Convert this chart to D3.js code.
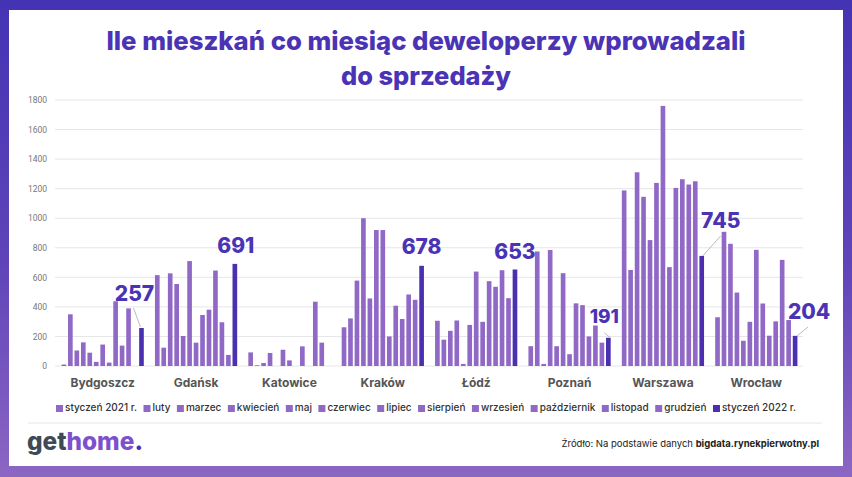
<!DOCTYPE html>
<html><head><meta charset="utf-8">
<script src="https://cdn.jsdelivr.net/npm/d3@7"></script>
<style>html,body{margin:0;padding:0;background:#fff}svg{display:block}</style>
</head><body>
<svg id="c" width="852" height="477"></svg>
<script>
const cities = ["Bydgoszcz","Gdańsk","Katowice","Kraków","Łódź","Poznań","Warszawa","Wrocław"];
const months = ["styczeń 2021 r.","luty","marzec","kwiecień","maj","czerwiec","lipiec","sierpień","wrzesień","październik","listopad","grudzień","styczeń 2022 r."];
const bydgoszcz = [10,350,105,160,90,28,145,23,438,138,390,0,257];
const gdansk    = [615,124,627,555,203,710,158,345,381,646,296,75,691];
const katowice  = [92,5,20,88,0,110,38,0,133,0,435,158,0];
const krakow    = [262,322,578,1000,457,920,920,200,408,318,484,448,678];
const lodz      = [306,178,238,308,14,278,639,299,574,536,648,459,653];
const poznan    = [134,775,14,785,134,628,80,424,412,200,274,158,191];
const warszawa  = [1188,650,1311,1145,852,1239,1760,669,1205,1264,1228,1250,745];
const wroclaw   = [330,908,827,497,171,299,786,423,205,302,718,311,204];
const yTicks = [0,200,400,600,800,1000,1200,1400,1600,1800];
const labelled = [257,691,null,678,653,191,745,204];

const series = [bydgoszcz,gdansk,katowice,krakow,lodz,poznan,warszawa,wroclaw];
const table = cities.map((c,i)=>({city:c, values:series[i]}));

const svg = d3.select("#c");
const defs = svg.append("defs");
const g = defs.append("linearGradient").attr("id","bg").attr("x1",0).attr("y1",0).attr("x2",0).attr("y2",1);
g.append("stop").attr("offset","0%").attr("stop-color","#4433b3");
g.append("stop").attr("offset","55%").attr("stop-color","#5f44b9");
g.append("stop").attr("offset","100%").attr("stop-color","#8c66c3");
svg.append("rect").attr("width",852).attr("height",477).attr("fill","url(#bg)");
svg.append("rect").attr("x",9).attr("y",10).attr("width",834).attr("height",456).attr("fill","#fff");

// Title
const titleColor = "#4a33b4";
const t1 = svg.append("text").attr("x",426).attr("y",50).attr("text-anchor","middle")
  .attr("font-family","Inter, 'Open Sans', sans-serif").attr("font-weight",800).attr("font-size",26)
  .attr("fill",titleColor).text("Ile mieszkań co miesiąc deweloperzy wprowadzali");
const t2 = svg.append("text").attr("x",426).attr("y",85).attr("text-anchor","middle")
  .attr("font-family","Inter, 'Open Sans', sans-serif").attr("font-weight",800).attr("font-size",26)
  .attr("fill",titleColor).text("do sprzedaży");
[[t1,639],[t2,170]].forEach(([t,w])=>{const l=t.node().getComputedTextLength(); if(l>0) t.attr("textLength",w).attr("lengthAdjust","spacingAndGlyphs");});

// Scales
const y = d3.scaleLinear().domain([0,1800]).range([366,100]);
const x0 = d3.scaleBand().domain(cities).range([56,803]).paddingInner(0.1).paddingOuter(0.05);
const x1 = d3.scaleBand().domain(months).range([0,x0.bandwidth()]).paddingInner(0.28).paddingOuter(0.14);

// Grid
const grid = svg.append("g");
grid.selectAll("line").data(yTicks).join("line")
  .attr("x1",55).attr("x2",803).attr("y1",d=>y(d)).attr("y2",d=>y(d))
  .attr("stroke","#e6e6e6").attr("stroke-width",1);
const yAxis = d3.axisLeft(y).tickValues(yTicks).tickSize(0).tickPadding(0).tickFormat(d3.format("d"));
const ya = svg.append("g").attr("transform","translate(47,0)").call(yAxis);
ya.select(".domain").remove();
ya.selectAll("text").attr("font-family","Roboto, sans-serif").attr("font-size",8.5).attr("fill","#777");

// Bars
const light = "#9069c6", dark = "#4a2fb1";
const groups = svg.append("g").selectAll("g").data(table).join("g")
  .attr("transform",d=>`translate(${x0(d.city)},0)`);
groups.selectAll("rect").data(d=>d.values.map((v,i)=>({m:months[i],v,i}))).join("rect")
  .attr("x",d=>x1(d.m)).attr("width",x1.bandwidth())
  .attr("y",d=>y(d.v)).attr("height",d=>y(0)-y(d.v))
  .attr("fill",d=>d.i===12?dark:light);

// City labels
const xAxis = d3.axisBottom(x0).tickSize(0).tickPadding(0);
const xa = svg.append("g").attr("transform","translate(0,378)").call(xAxis);
xa.select(".domain").remove();
xa.selectAll("text").attr("font-family","Inter, sans-serif").attr("font-weight",700).attr("font-size",12).attr("fill","#555").attr("dy","0.75em");

// Value labels (offsets relative to bar top)
const labelOffsets = [
  {dx:-7,dy:-27,line:[-8,-20,-1,-1]},
  {dx:1,dy:-11},
  null,
  {dx:0,dy:-12},
  {dx:0,dy:-11},
  {dx:-4,dy:-15,fs:19,line:[-4,-5,2,0]},
  {dx:19,dy:-28,line:[19,-20,1,0]},
  {dx:14,dy:-17,line:[13,-9,2,0]}
];
labelled.forEach((v,ci)=>{
  if(v==null) return;
  const o = labelOffsets[ci];
  const bx = x0(cities[ci]) + x1(months[12]) + x1.bandwidth()/2;
  const by = y(v);
  if(o.line){
    svg.append("line").attr("x1",bx+o.line[0]).attr("y1",by+o.line[1]).attr("x2",bx+o.line[2]).attr("y2",by+o.line[3])
      .attr("stroke","#aaa").attr("stroke-width",0.8);
  }
  svg.append("text").attr("x",bx+o.dx).attr("y",by+o.dy).attr("text-anchor","middle")
    .attr("font-family","Inter, sans-serif").attr("font-weight",800).attr("font-size",o.fs||21)
    .attr("fill","#4a33b4").text(d3.format("d")(v));
});

// Legend
const leg = svg.append("g");
const items = months.map((m,i)=>{
  const gg = leg.append("g");
  gg.append("rect").attr("width",7).attr("height",7).attr("y",-6).attr("fill",i===12?dark:light);
  const tt = gg.append("text").attr("x",9).attr("y",0).attr("font-family","Inter, sans-serif").attr("font-weight",500)
    .attr("font-size",10).attr("fill","#333").text(m);
  return {gg,w:9+tt.node().getComputedTextLength()};
});
const totalW = 796-56;
const sumW = d3.sum(items,d=>d.w);
const gap = (totalW-sumW)/(items.length-1);
let cx = 56;
items.forEach(it=>{it.gg.attr("transform",`translate(${cx},411)`); cx += it.w+gap;});

// Separator
svg.append("line").attr("x1",28).attr("x2",822).attr("y1",423).attr("y2",423).attr("stroke","#e6e6e6").attr("stroke-width",1);

// Logo (separate text pieces laid out side by side)
const logoParts = [["get","#3e4a56"],["home","#7d50cc"],[".","#4a30b0"]];
let lx = 27;
const logoG = svg.append("g");
const pieces = logoParts.map(([s,c])=>logoG.append("text").attr("y",450).attr("font-family","Inter, sans-serif")
  .attr("font-weight",800).attr("font-size",28).attr("fill",c).text(s));
const widths = pieces.map(p=>p.node().getComputedTextLength());
const scale = 116/d3.sum(widths);
pieces.forEach((p,i)=>{p.attr("font-size",28*scale).attr("x",lx); lx += widths[i]*scale;});

// Source
const src = svg.append("text").attr("x",819).attr("y",447).attr("text-anchor","end")
  .attr("font-family","Inter, sans-serif").attr("font-size",9.5).attr("fill","#222");
src.append("tspan").text("Źródło: Na podstawie danych ");
src.append("tspan").attr("font-weight",700).text("bigdata.rynekpierwotny.pl");
</script>
</body></html>
